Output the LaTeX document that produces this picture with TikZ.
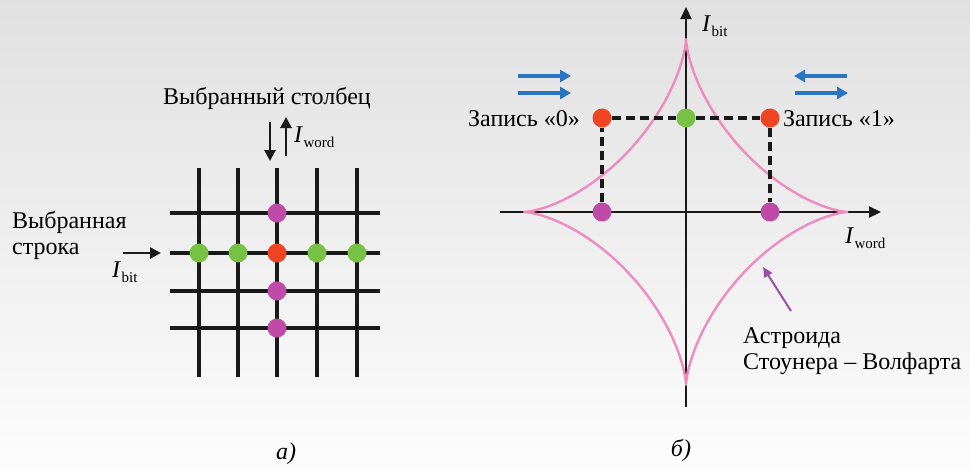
\documentclass[tikz,border=0pt]{standalone}
\usepackage{fontspec}
\setmainfont{Liberation Serif}
\usetikzlibrary{arrows.meta}

\definecolor{dotred}{HTML}{EE4422}
\definecolor{dotgreen}{HTML}{77C144}
\definecolor{dotmag}{HTML}{C04AA8}
\definecolor{astpink}{HTML}{EE8CC0}
\definecolor{arrblue}{HTML}{2A74C0}
\definecolor{arrpurple}{HTML}{9A4FA8}

\newcommand{\Icur}[1]{\textit{I}\kern0.5pt\raisebox{-5pt}{\fontsize{15}{15}\selectfont #1}}

\begin{document}
\begin{tikzpicture}[
    x=1pt, y=-1pt,
    every node/.style={font=\fontsize{24}{26}\selectfont, inner sep=0pt},
    gridline/.style={line width=3.2pt, black!90},
    axis/.style={line width=2.2pt, black!90, -{Triangle[length=12pt,width=11pt]}},
    dashline/.style={line width=3.2pt, black!90, dash pattern=on 9pt off 5pt},
    dot/.style={circle, minimum size=19pt, inner sep=0pt},
    curarrow/.style={line width=2.8pt, black!90, -{Triangle[length=11pt,width=11pt]}},
    bluearrow/.style={line width=4.5pt, arrblue, -{Triangle[length=11pt,width=12pt]}}
]

% Background
\shade[top color=black!12, bottom color=black!1] (0,0) rectangle (970,469);

% ---- a) word/bit grid
\foreach \x in {199,238,277,317,357}
    \draw[gridline] (\x,168) -- (\x,377);
\foreach \y in {213,253,291,328}
    \draw[gridline] (170,\y) -- (380,\y);

\node[dot, fill=dotgreen] (g1) at (199,253) {};
\node[dot, fill=dotgreen] (g2) at (238,253) {};
\node[dot, fill=dotred]   (sel) at (277,253) {};
\node[dot, fill=dotgreen] (g3) at (317,253) {};
\node[dot, fill=dotgreen] (g4) at (357,253) {};
\node[dot, fill=dotmag] (h1) at (277,213) {};
\node[dot, fill=dotmag] (h2) at (277,291) {};
\node[dot, fill=dotmag] (h3) at (277,328) {};

% Currents
\coordinate (bitin) at (123,253);
\coordinate (bitend) at (161,253);
\draw[curarrow] (bitin) -- (bitend);
\node[anchor=base west] (ibit) at (112,277) {\Icur{bit}};

\coordinate (wdtop) at (270,122);
\coordinate (wdbot) at (270,161);
\coordinate (wutop) at (286,117);
\coordinate (wubot) at (286,156);
\draw[curarrow] (wdtop) -- (wdbot);
\draw[curarrow] (wubot) -- (wutop);
\node[anchor=base west] (iword) at (294,142) {\Icur{word}};

% Labels
\node (colsel) at (267,98) {Выбранный столбец};
\node[anchor=north west, align=left] (rowsel) at (12,211) {Выбранная\\строка};
\node[anchor=base] (capa) at (286,459) {\textit{а)}};

% ---- b) astroid
\draw[axis] (500,212) -- (881,212);
\draw[axis] (686,407) -- (686,7);

\draw[astpink, line width=2.4pt, line join=round]
    plot[domain=0:360, samples=361]
    ({686+162*cos(\x)*cos(\x)*cos(\x)}, {212-173*sin(\x)*sin(\x)*sin(\x)});

\node[dot, fill=dotred]   (w0) at (602,118) {};
\node[dot, fill=dotgreen] (wc) at (686,118) {};
\node[dot, fill=dotred]   (w1) at (770,118) {};
\node[dot, fill=dotmag]   (m0) at (602,212) {};
\node[dot, fill=dotmag]   (m1) at (770,212) {};

\draw[dashline] (m0) -- (w0);
\draw[dashline] (w0) -- (wc);
\draw[dashline] (wc) -- (w1);
\draw[dashline] (w1) -- (m1);

% Magnetisation arrows
\coordinate (la1) at (518,76);
\coordinate (la2) at (571,76);
\coordinate (lb1) at (518,93);
\coordinate (lb2) at (571,93);
\draw[bluearrow] (la1) -- (la2);
\draw[bluearrow] (lb1) -- (lb2);
\coordinate (ra1) at (847,76);
\coordinate (ra2) at (794,76);
\coordinate (rb1) at (795,93);
\coordinate (rb2) at (848,93);
\draw[bluearrow] (ra1) -- (ra2);
\draw[bluearrow] (rb1) -- (rb2);

\node[anchor=east] (lab0) at (580,119) {Запись «0»};
\node[anchor=west] (lab1) at (783,119) {Запись «1»};
\node[anchor=base west] (ibitb) at (702,31) {\Icur{bit}};
\node[anchor=base west] (iwordb) at (845,243) {\Icur{word}};

\node[anchor=north west, align=left] (astro) at (743,327) {Астроида\\Стоунера -- Волфарта};
\draw[arrpurple, line width=2pt, -{Triangle[length=10pt,width=9pt]}] (791,311) -- (763,267);

\node[anchor=base] (capb) at (681,456) {\textit{б)}};

\end{tikzpicture}
\end{document}
